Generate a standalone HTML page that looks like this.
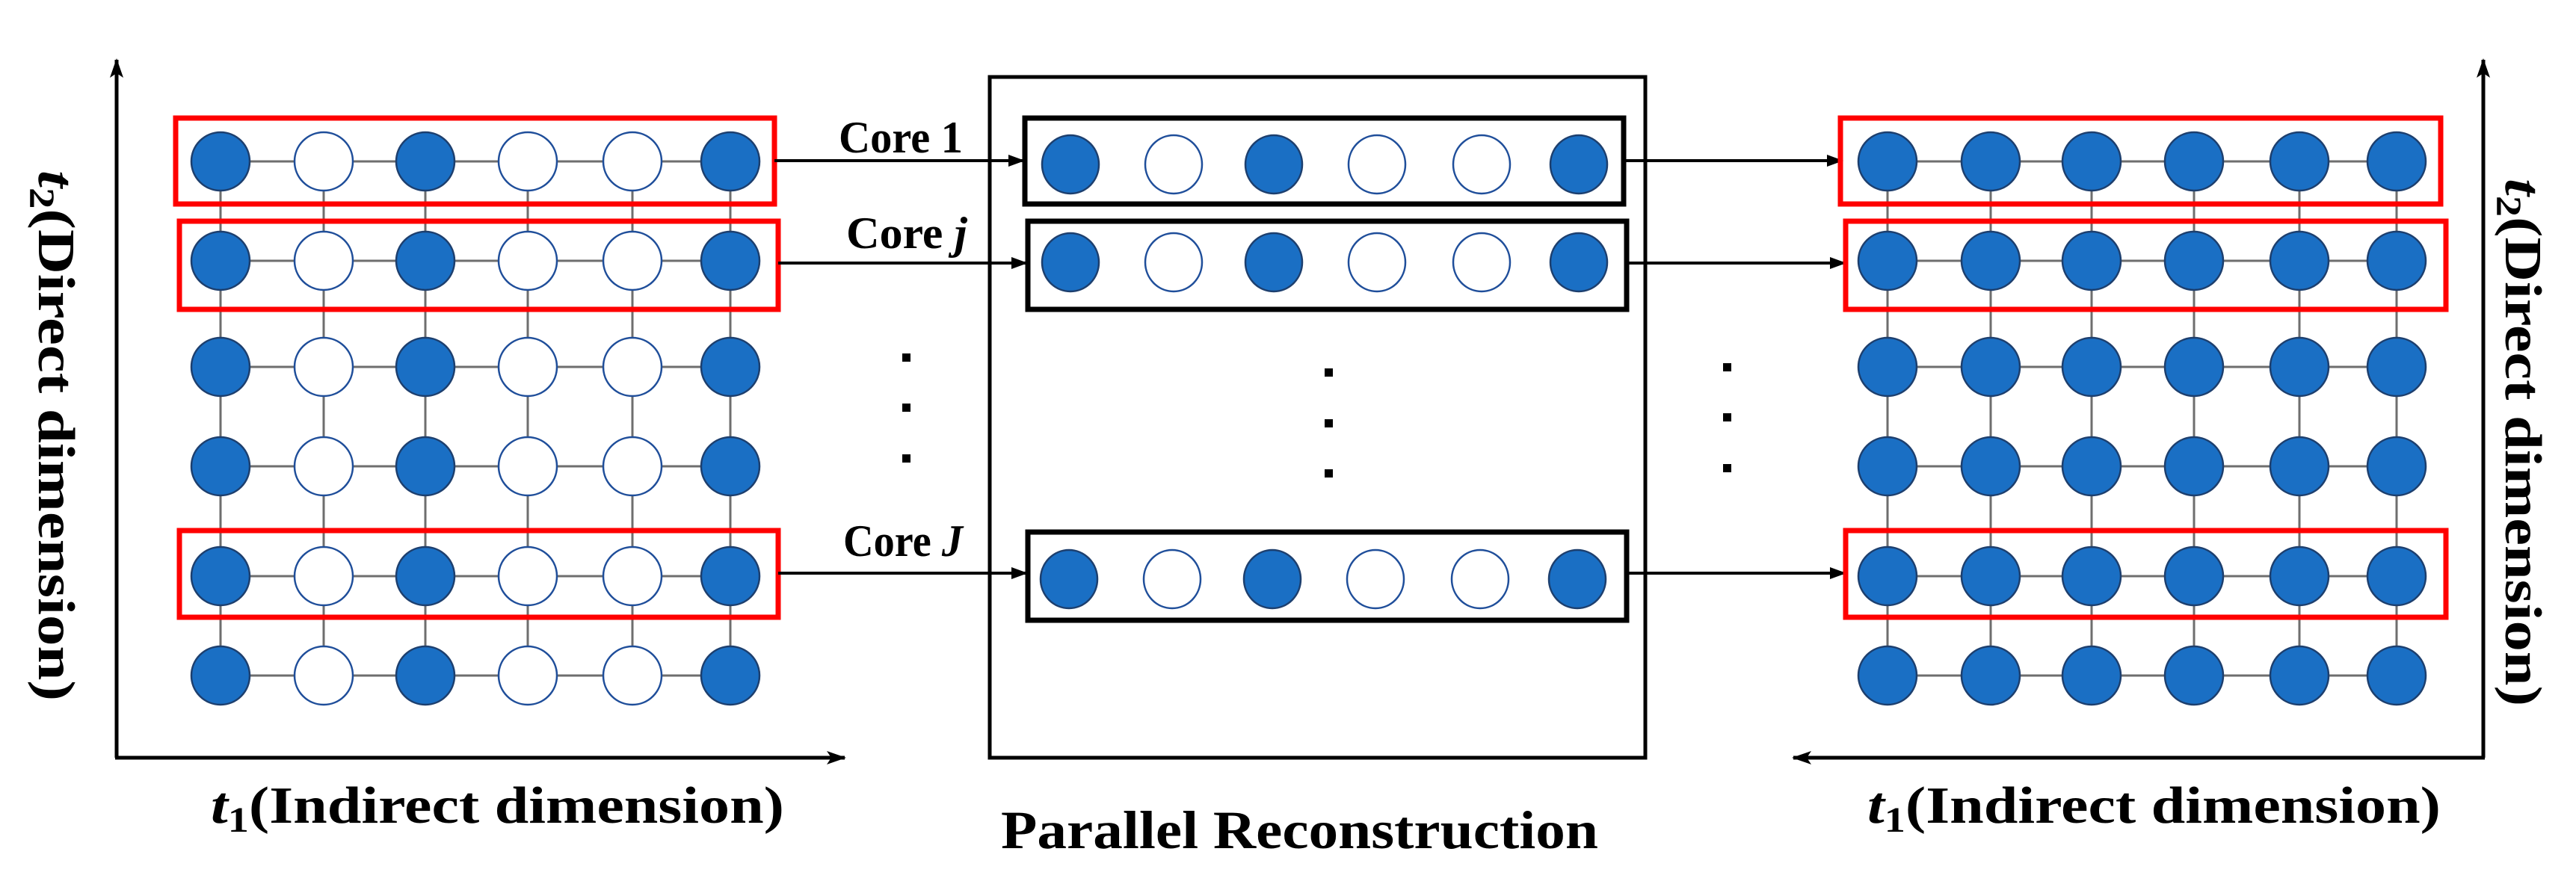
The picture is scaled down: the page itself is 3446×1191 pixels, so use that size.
<!DOCTYPE html>
<html><head><meta charset="utf-8"><style>
html,body{margin:0;padding:0;background:#fff}
svg{display:block}
text{font-family:"Liberation Serif",serif;font-weight:bold;fill:#000}
</style></head><body>
<svg width="3446" height="1191" viewBox="0 0 3446 1191" xmlns="http://www.w3.org/2000/svg">
<defs>
<marker id="ah" markerWidth="10" markerHeight="10" refX="9" refY="5" orient="auto" markerUnits="userSpaceOnUse" viewBox="0 0 10 10">
<path d="M0,0 L10,5 L0,10 z" fill="#000"/></marker>
<marker id="ah2" markerWidth="22" markerHeight="22" refX="20" refY="11" orient="auto" markerUnits="userSpaceOnUse" viewBox="0 0 22 22">
<path d="M0,3 L22,11 L0,19 z" fill="#000"/></marker>
<marker id="ah3" markerWidth="26" markerHeight="26" refX="24" refY="13" orient="auto" markerUnits="userSpaceOnUse" viewBox="0 0 26 26">
<path d="M0,4 L26,13 L0,22 L6,13 z" fill="#000"/></marker>
</defs>

<!-- LEFT axes -->
<line x1="156" y1="1014" x2="156" y2="80" stroke="#000" stroke-width="5" marker-end="url(#ah3)"/>
<line x1="154" y1="1014" x2="1130" y2="1014" stroke="#000" stroke-width="5" marker-end="url(#ah3)"/>

<!-- left grid lines -->
<g stroke="#6e6e6e" stroke-width="3">
<line x1="295" y1="216" x2="295" y2="904"/><line x1="433" y1="216" x2="433" y2="904"/>
<line x1="569" y1="216" x2="569" y2="904"/><line x1="706" y1="216" x2="706" y2="904"/>
<line x1="846" y1="216" x2="846" y2="904"/><line x1="977" y1="216" x2="977" y2="904"/>
<line x1="295" y1="216" x2="977" y2="216"/><line x1="295" y1="349" x2="977" y2="349"/>
<line x1="295" y1="491" x2="977" y2="491"/><line x1="295" y1="624" x2="977" y2="624"/>
<line x1="295" y1="771" x2="977" y2="771"/><line x1="295" y1="904" x2="977" y2="904"/>
</g>
<g id="leftdots">
<g stroke-width="2.5">
<!-- rows -->
<g>
<circle cx="295" cy="216" r="39" fill="#1a6fc4" stroke="#1d3f6e"/><circle cx="433" cy="216" r="39" fill="#fff" stroke="#1f4e9a"/>
<circle cx="569" cy="216" r="39" fill="#1a6fc4" stroke="#1d3f6e"/><circle cx="706" cy="216" r="39" fill="#fff" stroke="#1f4e9a"/>
<circle cx="846" cy="216" r="39" fill="#fff" stroke="#1f4e9a"/><circle cx="977" cy="216" r="39" fill="#1a6fc4" stroke="#1d3f6e"/>
</g>
<g>
<circle cx="295" cy="349" r="39" fill="#1a6fc4" stroke="#1d3f6e"/><circle cx="433" cy="349" r="39" fill="#fff" stroke="#1f4e9a"/>
<circle cx="569" cy="349" r="39" fill="#1a6fc4" stroke="#1d3f6e"/><circle cx="706" cy="349" r="39" fill="#fff" stroke="#1f4e9a"/>
<circle cx="846" cy="349" r="39" fill="#fff" stroke="#1f4e9a"/><circle cx="977" cy="349" r="39" fill="#1a6fc4" stroke="#1d3f6e"/>
</g>
<g>
<circle cx="295" cy="491" r="39" fill="#1a6fc4" stroke="#1d3f6e"/><circle cx="433" cy="491" r="39" fill="#fff" stroke="#1f4e9a"/>
<circle cx="569" cy="491" r="39" fill="#1a6fc4" stroke="#1d3f6e"/><circle cx="706" cy="491" r="39" fill="#fff" stroke="#1f4e9a"/>
<circle cx="846" cy="491" r="39" fill="#fff" stroke="#1f4e9a"/><circle cx="977" cy="491" r="39" fill="#1a6fc4" stroke="#1d3f6e"/>
</g>
<g>
<circle cx="295" cy="624" r="39" fill="#1a6fc4" stroke="#1d3f6e"/><circle cx="433" cy="624" r="39" fill="#fff" stroke="#1f4e9a"/>
<circle cx="569" cy="624" r="39" fill="#1a6fc4" stroke="#1d3f6e"/><circle cx="706" cy="624" r="39" fill="#fff" stroke="#1f4e9a"/>
<circle cx="846" cy="624" r="39" fill="#fff" stroke="#1f4e9a"/><circle cx="977" cy="624" r="39" fill="#1a6fc4" stroke="#1d3f6e"/>
</g>
<g>
<circle cx="295" cy="771" r="39" fill="#1a6fc4" stroke="#1d3f6e"/><circle cx="433" cy="771" r="39" fill="#fff" stroke="#1f4e9a"/>
<circle cx="569" cy="771" r="39" fill="#1a6fc4" stroke="#1d3f6e"/><circle cx="706" cy="771" r="39" fill="#fff" stroke="#1f4e9a"/>
<circle cx="846" cy="771" r="39" fill="#fff" stroke="#1f4e9a"/><circle cx="977" cy="771" r="39" fill="#1a6fc4" stroke="#1d3f6e"/>
</g>
<g>
<circle cx="295" cy="904" r="39" fill="#1a6fc4" stroke="#1d3f6e"/><circle cx="433" cy="904" r="39" fill="#fff" stroke="#1f4e9a"/>
<circle cx="569" cy="904" r="39" fill="#1a6fc4" stroke="#1d3f6e"/><circle cx="706" cy="904" r="39" fill="#fff" stroke="#1f4e9a"/>
<circle cx="846" cy="904" r="39" fill="#fff" stroke="#1f4e9a"/><circle cx="977" cy="904" r="39" fill="#1a6fc4" stroke="#1d3f6e"/>
</g>
</g>
</g>
<g fill="none" stroke="#ff0000" stroke-width="7">
<rect x="235" y="158" width="801" height="115"/>
<rect x="240" y="296" width="801" height="118"/>
<rect x="240" y="710" width="801" height="116"/>
</g>

<!-- left labels -->
<text x="282" y="1101" font-size="70" textLength="767" lengthAdjust="spacingAndGlyphs"><tspan font-style="italic">t</tspan><tspan font-size="48" dy="12">1</tspan><tspan dy="-12">(Indirect dimension)</tspan></text>
<text transform="translate(52,228) rotate(90)" font-size="70" textLength="710" lengthAdjust="spacingAndGlyphs"><tspan font-style="italic">t</tspan><tspan font-size="48" dy="12">2</tspan><tspan dy="-12">(Direct dimension)</tspan></text>

<!-- arrows left->middle -->
<g stroke="#000" stroke-width="4">
<line x1="1036" y1="215" x2="1369" y2="215" marker-end="url(#ah2)"/>
<line x1="1041" y1="352" x2="1373" y2="352" marker-end="url(#ah2)"/>
<line x1="1041" y1="767" x2="1373" y2="767" marker-end="url(#ah2)"/>
</g>
<text x="1122" y="204" font-size="60" textLength="166" lengthAdjust="spacingAndGlyphs">Core 1</text>
<text x="1132" y="332" font-size="60" textLength="162" lengthAdjust="spacingAndGlyphs">Core <tspan font-style="italic">j</tspan></text>
<text x="1128" y="744" font-size="60" textLength="160" lengthAdjust="spacingAndGlyphs">Core <tspan font-style="italic">J</tspan></text>

<!-- dots -->
<g fill="#000">
<rect x="1207" y="473" width="11" height="11"/><rect x="1207" y="540" width="11" height="11"/><rect x="1207" y="608" width="11" height="11"/>
<rect x="1772" y="493" width="11" height="11"/><rect x="1772" y="561" width="11" height="11"/><rect x="1772" y="628" width="11" height="11"/>
<rect x="2305" y="486" width="11" height="11"/><rect x="2305" y="553" width="11" height="11"/><rect x="2305" y="621" width="11" height="11"/>
</g>

<!-- middle box -->
<rect x="1324" y="103" width="877" height="911" fill="none" stroke="#000" stroke-width="5"/>
<g fill="none" stroke="#000" stroke-width="7">
<rect x="1371" y="158" width="801" height="115"/>
<rect x="1375" y="296" width="801" height="118"/>
<rect x="1375" y="712" width="801" height="118"/>
</g>
<g stroke-width="2.5">
<g>
<ellipse cx="1432" cy="220" rx="38" ry="39" fill="#1a6fc4" stroke="#1d3f6e"/><ellipse cx="1570" cy="220" rx="38" ry="39" fill="#fff" stroke="#1f4e9a"/>
<ellipse cx="1704" cy="220" rx="38" ry="39" fill="#1a6fc4" stroke="#1d3f6e"/><ellipse cx="1842" cy="220" rx="38" ry="39" fill="#fff" stroke="#1f4e9a"/>
<ellipse cx="1982" cy="220" rx="38" ry="39" fill="#fff" stroke="#1f4e9a"/><ellipse cx="2112" cy="220" rx="38" ry="39" fill="#1a6fc4" stroke="#1d3f6e"/>
</g>
<g>
<ellipse cx="1432" cy="351" rx="38" ry="39" fill="#1a6fc4" stroke="#1d3f6e"/><ellipse cx="1570" cy="351" rx="38" ry="39" fill="#fff" stroke="#1f4e9a"/>
<ellipse cx="1704" cy="351" rx="38" ry="39" fill="#1a6fc4" stroke="#1d3f6e"/><ellipse cx="1842" cy="351" rx="38" ry="39" fill="#fff" stroke="#1f4e9a"/>
<ellipse cx="1982" cy="351" rx="38" ry="39" fill="#fff" stroke="#1f4e9a"/><ellipse cx="2112" cy="351" rx="38" ry="39" fill="#1a6fc4" stroke="#1d3f6e"/>
</g>
<g>
<ellipse cx="1430" cy="775" rx="38" ry="39" fill="#1a6fc4" stroke="#1d3f6e"/><ellipse cx="1568" cy="775" rx="38" ry="39" fill="#fff" stroke="#1f4e9a"/>
<ellipse cx="1702" cy="775" rx="38" ry="39" fill="#1a6fc4" stroke="#1d3f6e"/><ellipse cx="1840" cy="775" rx="38" ry="39" fill="#fff" stroke="#1f4e9a"/>
<ellipse cx="1980" cy="775" rx="38" ry="39" fill="#fff" stroke="#1f4e9a"/><ellipse cx="2110" cy="775" rx="38" ry="39" fill="#1a6fc4" stroke="#1d3f6e"/>
</g>
</g>
<text x="1339" y="1135" font-size="72" textLength="799" lengthAdjust="spacingAndGlyphs">Parallel Reconstruction</text>

<!-- arrows middle->right -->
<g stroke="#000" stroke-width="4">
<line x1="2172" y1="215" x2="2464" y2="215" marker-end="url(#ah2)"/>
<line x1="2176" y1="352" x2="2468" y2="352" marker-end="url(#ah2)"/>
<line x1="2176" y1="767" x2="2468" y2="767" marker-end="url(#ah2)"/>
</g>

<!-- right axes -->
<line x1="3322" y1="1014" x2="3322" y2="80" stroke="#000" stroke-width="5" marker-end="url(#ah3)"/>
<line x1="3324" y1="1014" x2="2399" y2="1014" stroke="#000" stroke-width="5" marker-end="url(#ah3)"/>

<g stroke="#6e6e6e" stroke-width="3">
<line x1="2525" y1="216" x2="2525" y2="904"/><line x1="2663" y1="216" x2="2663" y2="904"/>
<line x1="2798" y1="216" x2="2798" y2="904"/><line x1="2935" y1="216" x2="2935" y2="904"/>
<line x1="3076" y1="216" x2="3076" y2="904"/><line x1="3206" y1="216" x2="3206" y2="904"/>
<line x1="2525" y1="216" x2="3206" y2="216"/><line x1="2525" y1="349" x2="3206" y2="349"/>
<line x1="2525" y1="491" x2="3206" y2="491"/><line x1="2525" y1="624" x2="3206" y2="624"/>
<line x1="2525" y1="771" x2="3206" y2="771"/><line x1="2525" y1="904" x2="3206" y2="904"/>
</g>
<g fill="#1a6fc4" stroke="#1d3f6e" stroke-width="2.5">
<circle cx="2525" cy="216" r="39"/><circle cx="2663" cy="216" r="39"/><circle cx="2798" cy="216" r="39"/><circle cx="2935" cy="216" r="39"/><circle cx="3076" cy="216" r="39"/><circle cx="3206" cy="216" r="39"/>
<circle cx="2525" cy="349" r="39"/><circle cx="2663" cy="349" r="39"/><circle cx="2798" cy="349" r="39"/><circle cx="2935" cy="349" r="39"/><circle cx="3076" cy="349" r="39"/><circle cx="3206" cy="349" r="39"/>
<circle cx="2525" cy="491" r="39"/><circle cx="2663" cy="491" r="39"/><circle cx="2798" cy="491" r="39"/><circle cx="2935" cy="491" r="39"/><circle cx="3076" cy="491" r="39"/><circle cx="3206" cy="491" r="39"/>
<circle cx="2525" cy="624" r="39"/><circle cx="2663" cy="624" r="39"/><circle cx="2798" cy="624" r="39"/><circle cx="2935" cy="624" r="39"/><circle cx="3076" cy="624" r="39"/><circle cx="3206" cy="624" r="39"/>
<circle cx="2525" cy="771" r="39"/><circle cx="2663" cy="771" r="39"/><circle cx="2798" cy="771" r="39"/><circle cx="2935" cy="771" r="39"/><circle cx="3076" cy="771" r="39"/><circle cx="3206" cy="771" r="39"/>
<circle cx="2525" cy="904" r="39"/><circle cx="2663" cy="904" r="39"/><circle cx="2798" cy="904" r="39"/><circle cx="2935" cy="904" r="39"/><circle cx="3076" cy="904" r="39"/><circle cx="3206" cy="904" r="39"/>
</g>
<g fill="none" stroke="#ff0000" stroke-width="7">
<rect x="2462" y="158" width="803" height="115"/>
<rect x="2469" y="296" width="803" height="118"/>
<rect x="2469" y="710" width="803" height="116"/>
</g>
<text x="2498" y="1101" font-size="70" textLength="767" lengthAdjust="spacingAndGlyphs"><tspan font-style="italic">t</tspan><tspan font-size="48" dy="12">1</tspan><tspan dy="-12">(Indirect dimension)</tspan></text>
<text transform="translate(3352,239) rotate(90)" font-size="70" textLength="706" lengthAdjust="spacingAndGlyphs"><tspan font-style="italic">t</tspan><tspan font-size="48" dy="12">2</tspan><tspan dy="-12">(Direct dimension)</tspan></text>
</svg>
</body></html>
